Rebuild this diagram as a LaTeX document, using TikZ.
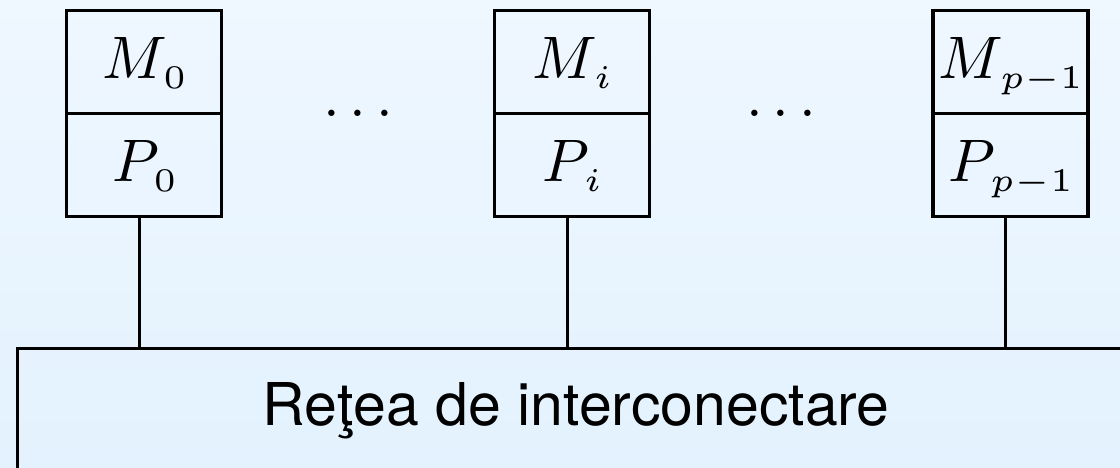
\documentclass[tikz,border=0pt]{standalone}
\usepackage{fontspec}
\newfontfamily\heros{TeX Gyre Heros}
% big math symbol with a subscript, both scaled explicitly
\newcommand{\msb}[2]{\scalebox{6}{$#1_{}$}\raisebox{-10pt}{\scalebox{6.6}{$\scriptscriptstyle #2$}}}
\newcommand{\bigdots}{\scalebox{6}{$\ldots$}}
\definecolor{bgtop}{RGB}{239,247,255}
\definecolor{bgbot}{RGB}{227,242,254}
\tikzset{
  cell/.style={draw=black, line width=3.3pt, minimum width=155pt, minimum height=103pt,
    inner sep=0pt, text height=43pt, text depth=10pt},
  link/.style={draw=black, line width=3.3pt},
  dots/.style={inner sep=0pt, anchor=base},
  netbox/.style={draw=black, line width=3.3pt, minimum width=1140pt, minimum height=140pt,
    inner sep=0pt, anchor=north west},
  nettext/.style={inner sep=0pt, anchor=base, font=\heros\fontsize{59}{66}\selectfont}
}
\begin{document}
\begin{tikzpicture}[x=1pt, y=-1pt]
\useasboundingbox (0,0) rectangle (1120,467);
\clip (0,0) rectangle (1120,467);
\shade[top color=bgtop, bottom color=bgbot] (0,0) rectangle (1120,467);
% memory / processor cells
\node[cell] (m0) at (144,61.75) {\msb{M}{0}};
\node[cell] (p0) at (144,165) {\msb{P}{0}};
\node[cell] (mi) at (572,61.75) {\msb{M}{i}};
\node[cell] (pi) at (572,165) {\msb{P}{i}};
\node[cell] (mp) at (1010.5,61.75) {\msb{M}{p-1}};
\node[cell] (pp) at (1010.5,165) {\msb{P}{p-1}};
% dots
\node[dots] (d1) at (358,116) {\bigdots};
\node[dots] (d2) at (781,116) {\bigdots};
% network
\node[netbox] (net) at (15.5,346.5) {};
\node[nettext] (nt) at (576,425) {Reţea de interconectare};
% connectors
\coordinate (c0) at (139.5,0);
\coordinate (ci) at (567.5,0);
\coordinate (cp) at (1005.5,0);
\draw[link] (c0 |- p0.south) -- (c0 |- net.north);
\draw[link] (ci |- pi.south) -- (ci |- net.north);
\draw[link] (cp |- pp.south) -- (cp |- net.north);
\end{tikzpicture}
\end{document}
